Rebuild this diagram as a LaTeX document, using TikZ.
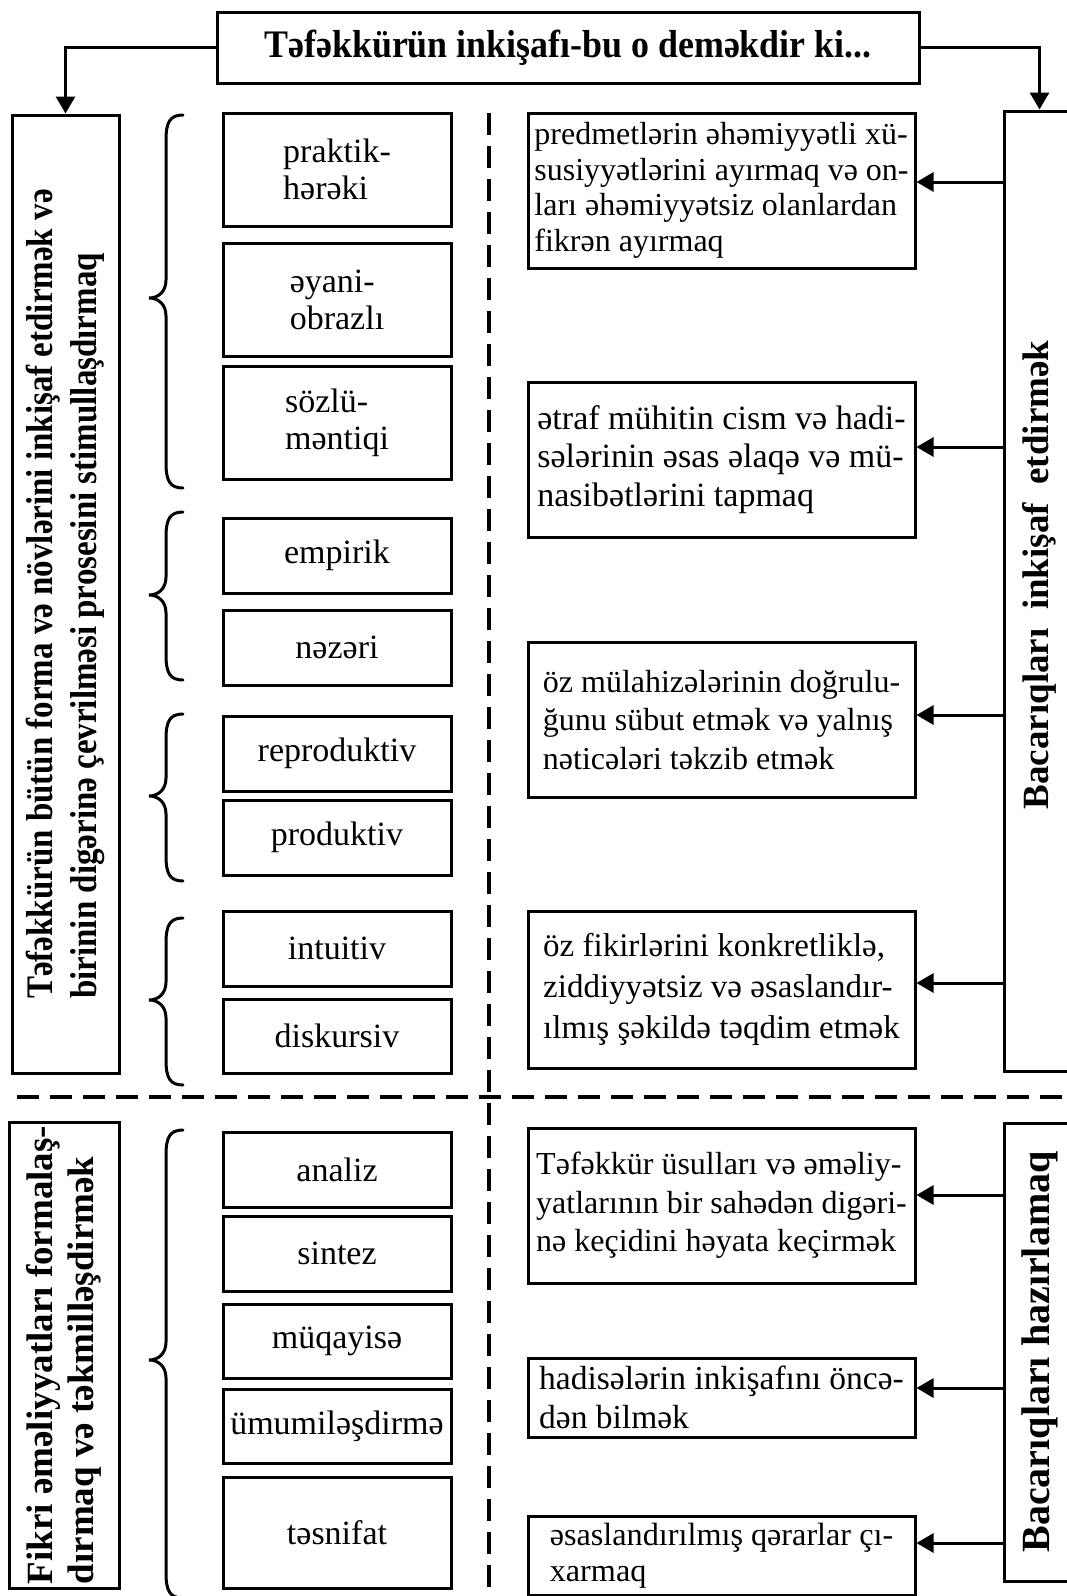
\documentclass[tikz,border=0pt]{standalone}
\usepackage{fontspec}
\setmainfont{Liberation Serif}
\newfontfamily\condfont{Liberation Serif}[FakeStretch=0.88]
\newfontfamily\titlefont{Liberation Serif}[FakeStretch=0.92]
\usetikzlibrary{arrows.meta}
\newcommand{\fmid}{\fontsize{34pt}{37pt}\selectfont}
\newcommand{\fr}[2]{\fontsize{#1pt}{#2pt}\selectfont}
\newcommand{\ftitle}{\fontsize{39pt}{42pt}\selectfont\titlefont\bfseries}
\newcommand{\flone}{\fontsize{37.5pt}{44pt}\selectfont\condfont\bfseries}
\newcommand{\fltwo}{\fontsize{37pt}{41pt}\selectfont\bfseries}
\newcommand{\frb}{\fontsize{37pt}{40pt}\selectfont\bfseries}
\newcommand{\frbb}{\fontsize{40pt}{42pt}\selectfont\bfseries}
\newcommand{\mybrace}[3]{%
  \draw[brc] (183,#1) .. controls (170,#1) and (166,{#1+7}) .. (166,{#1+25})
    -- (166,{#2-18}) .. controls (166,{#2-6}) and (158,#2) .. (149,#2)
    .. controls (158,#2) and (166,{#2+6}) .. (166,{#2+18})
    -- (166,{#3-25}) .. controls (166,{#3-7}) and (170,#3) .. (183,#3);}
\tikzset{
  rbox/.style={draw, line width=3pt, inner sep=0pt, align=left},
  mid/.style={rbox, minimum width=228pt, font=\fmid},
  txt/.style={rbox, minimum width=387pt},
  arr/.style={line width=3pt, -{Triangle[length=17pt,width=19pt]}},
  sep/.style={line width=3.5pt, dash pattern=on 22pt off 11pt},
  brc/.style={line width=3pt, line cap=round},
}
\begin{document}
\begin{tikzpicture}[x=1pt,y=-1pt]
\useasboundingbox (0,0) rectangle (1066,1596);

% title
\node[rbox, align=center, minimum width=702pt, minimum height=71pt, font=\ftitle] (top) at (568,47.5) {Təfəkkürün inkişafı-bu o deməkdir ki...};

% left boxes
\node[rbox, rotate=90, minimum width=958pt, minimum height=107pt, font=\flone] (lb1) at (65.5,594)
  {Təfəkkürün bütün forma və növlərini inkişaf etdirmək və\\birinin digərinə çevrilməsi prosesini stimullaşdırmaq};
\node[rbox, rotate=90, minimum width=466pt, minimum height=110pt, font=\fltwo] (lb2) at (64,1355)
  {Fikri əməliyyatları formalaş-\\dırmaq və təkmilləşdirmək};

% right boxes
\node[rbox, rotate=90, minimum width=960pt, minimum height=71pt, font=\frb] (rb1) at (1039.5,591)
  {\hspace*{32pt}Bacarıqları\ \ inkişaf\ \ etdirmək};
\node[rbox, rotate=90, minimum width=458pt, minimum height=71pt, font=\frbb] (rb2) at (1039.5,1352)
  {Bacarıqları hazırlamaq};

% middle boxes
\node[mid, minimum height=113pt] (m1) at (337,169.5) {praktik-\\hərəki};
\node[mid, minimum height=113pt] (m2) at (337,299.5) {əyani-\\obrazlı};
\node[mid, minimum height=113pt] (m3) at (337,422.5) {sözlü-\\məntiqi};
\node[mid, minimum height=75pt] (m4) at (337,555.5) {empirik};
\node[mid, minimum height=75pt] (m5) at (337,647.5) {nəzəri};
\node[mid, minimum height=75pt] (m6) at (337,753.5) {reproduktiv};
\node[mid, minimum height=75pt] (m7) at (337,837.5) {produktiv};
\node[mid, minimum height=75pt] (m8) at (337,948.5) {intuitiv};
\node[mid, minimum height=74pt] (m9) at (337,1036) {diskursiv};
\node[mid, minimum height=75pt] (m10) at (337,1169.5) {analiz};
\node[mid, minimum height=75pt] (m11) at (337,1253.5) {sintez};
\node[mid, minimum height=74pt] (m12) at (337,1341) {müqayisə};
\node[mid, minimum height=74pt] (m13) at (337,1426) {ümumiləşdirmə};
\node[mid, minimum height=111pt] (m14) at (337,1532.5) {təsnifat};

% text boxes
\node[txt, minimum height=155pt, font=\fr{32}{35.5}] (t1) at (721.5,190.5)
  {predmetlərin əhəmiyyətli xü-\\susiyyətlərini ayırmaq və on-\\ları əhəmiyyətsiz olanlardan\\fikrən ayırmaq};
\node[txt, minimum height=155pt, font=\fr{34}{38.5}] (t2) at (721.5,459.5)
  {ətraf mühitin cism və hadi-\\sələrinin əsas əlaqə və mü-\\nasibətlərini tapmaq};
\node[txt, minimum height=155pt, font=\fr{32}{38.5}] (t3) at (721.5,720)
  {öz mülahizələrinin doğrulu-\\ğunu sübut etmək və yalnış\\nəticələri təkzib etmək};
\node[txt, minimum height=157pt, font=\fr{33}{41}] (t4) at (721.5,989.5)
  {öz fikirlərini konkretliklə,\\ziddiyyətsiz və əsaslandır-\\ılmış şəkildə təqdim etmək};
\node[txt, minimum height=155pt, font=\fr{32}{38.5}] (t5) at (721.5,1205.5)
  {Təfəkkür üsulları və əməliy-\\yatlarının bir sahədən digəri-\\nə keçidini həyata keçirmək};
\node[txt, minimum height=79pt, font=\fr{33.5}{38.5}] (t6) at (721.5,1397.5)
  {hadisələrin inkişafını öncə-\\dən bilmək};
\node[txt, minimum height=79pt, font=\fr{32.2}{35.5}] (t7) at (721.5,1555.5)
  {əsaslandırılmış qərarlar çı-\\xarmaq};

% connectors from title
\draw[arr] (top.west) -| (lb1.east);
\draw[arr] (top.east) -| (rb1.east);

% arrows from right boxes
\path (t1.east) ++(0,-8.5) coordinate (p1);
\path (t2.east) ++(0,-12.5) coordinate (p2);
\path (t3.east) ++(0,-5) coordinate (p3);
\path (t4.east) ++(0,-6.5) coordinate (p4);
\path (t5.east) ++(0,-10.5) coordinate (p5);
\path (t6.east) ++(0,-9.5) coordinate (p6);
\path (t7.east) ++(0,-12.5) coordinate (p7);
\draw[arr] (rb1.north |- p1) -- (p1);
\draw[arr] (rb1.north |- p2) -- (p2);
\draw[arr] (rb1.north |- p3) -- (p3);
\draw[arr] (rb1.north |- p4) -- (p4);
\draw[arr] (rb2.north |- p5) -- (p5);
\draw[arr] (rb2.north |- p6) -- (p6);
\draw[arr] (rb2.north |- p7) -- (p7);

% separators
\draw[sep] (489,113) -- (489,1600);
\draw[sep] (17,1097) -- (1070,1097);

% braces
\mybrace{115}{298}{488}
\mybrace{512}{595}{680}
\mybrace{714}{796}{881}
\mybrace{918}{1000}{1085}
\mybrace{1130}{1360}{1598}
\end{tikzpicture}
\end{document}
